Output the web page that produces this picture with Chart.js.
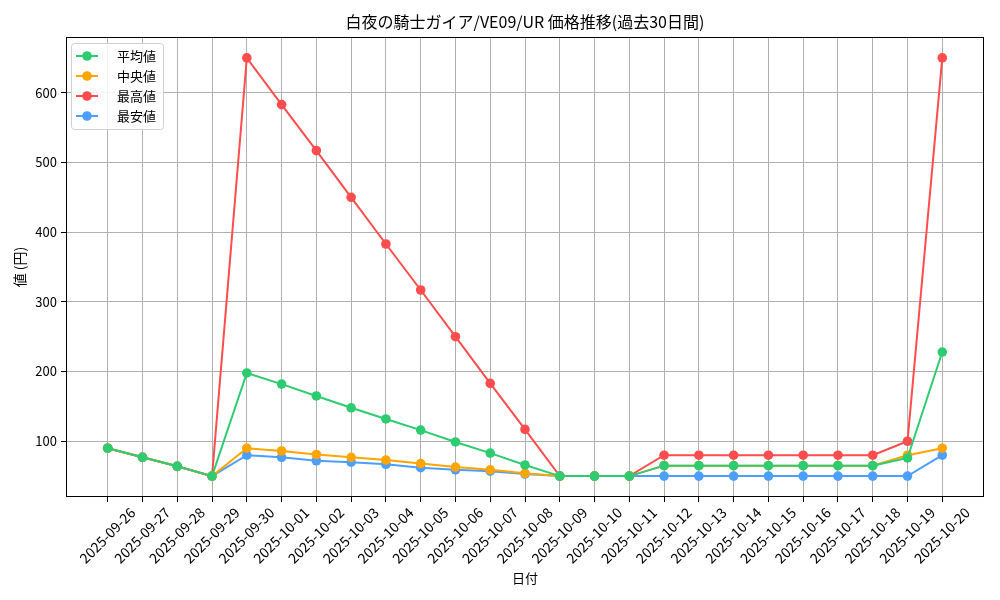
<!DOCTYPE html>
<html>
<head>
<meta charset="utf-8">
<script src="https://cdn.jsdelivr.net/npm/chart.js@4/dist/chart.umd.min.js"></script>
<style>
  html, body { margin: 0; padding: 0; background: #fff; }
  #wrap { width: 1000px; height: 600px; }
</style>
</head>
<body>
<div id="wrap"><canvas id="chart" width="1000" height="600"></canvas></div>
<script>
// 日付
const dates = [
  '2025-09-26', '2025-09-27', '2025-09-28', '2025-09-29', '2025-09-30',
  '2025-10-01', '2025-10-02', '2025-10-03', '2025-10-04', '2025-10-05',
  '2025-10-06', '2025-10-07', '2025-10-08', '2025-10-09', '2025-10-10',
  '2025-10-11', '2025-10-12', '2025-10-13', '2025-10-14', '2025-10-15',
  '2025-10-16', '2025-10-17', '2025-10-18', '2025-10-19', '2025-10-20'
];

// 各系列の値 (円)
const avgPrices = [90, 77, 64, 50, 198, 182, 165, 148, 132, 116, 99, 83, 66, 50, 50, 50, 65, 65, 65, 65, 65, 65, 65, 76, 228];
const medianPrices = [90, 77, 64, 50, 90, 86, 81, 77, 73, 68, 63, 59, 54, 50, 50, 50, 65, 65, 65, 65, 65, 65, 65, 80, 90];
const maxPrices = [90, 77, 64, 50, 650, 583, 517, 450, 383, 317, 250, 183, 117, 50, 50, 50, 80, 80, 80, 80, 80, 80, 80, 100, 650];
const minPrices = [90, 77, 64, 50, 80, 77, 72, 70, 67, 62, 59, 57, 53, 50, 50, 50, 50, 50, 50, 50, 50, 50, 50, 50, 80];

const yTicks = [100, 200, 300, 400, 500, 600];

const chartTitle = '白夜の騎士ガイア/VE09/UR 価格推移(過去30日間)';

const FONT = "'Noto Sans CJK JP', 'DejaVu Sans', sans-serif";

const toPoints = (arr) => arr.map((v, i) => ({ x: i, y: v }));

const makeSet = (label, values, color) => ({
  label: label,
  data: toPoints(values),
  borderColor: color,
  backgroundColor: color,
  borderWidth: 2,
  pointRadius: 4.8,
  pointHoverRadius: 4.8,
  pointBorderWidth: 0,
  tension: 0
});

const datasets = [
  makeSet('平均値', avgPrices, '#2ecc71'),
  makeSet('中央値', medianPrices, '#ffa500'),
  makeSet('最高値', maxPrices, '#ff4d4d'),
  makeSet('最安値', minPrices, '#4d9fff')
];

//枠線・タイトル・凡例を描くプラグイン
const framePlugin = {
  id: 'frame',
  afterDraw(chart) {
    const ctx = chart.ctx;
    const a = chart.chartArea;
    ctx.save();
    //四辺の枠
    ctx.fillStyle = '#000';
    const l = Math.round(a.left), t = Math.round(a.top);
    const r = Math.round(a.right), b = Math.round(a.bottom);
    ctx.fillRect(l, t, r - l, 1);
    ctx.fillRect(l, b - 1, r - l, 1);
    ctx.fillRect(l, t, 1, b - t);
    ctx.fillRect(r - 1, t, 1, b - t);

    //タイトル
    ctx.font = '16px ' + FONT;
    ctx.textAlign = 'center';
    ctx.textBaseline = 'middle';
    ctx.fillText(chartTitle, (a.left + a.right) / 2, 22);

    //凡例
    const bx = a.left + 5, by = a.top + 6, bw = 92, bh = 86;
    ctx.fillStyle = 'rgba(255,255,255,0.85)';
    ctx.strokeStyle = '#d0d0d0';
    ctx.lineWidth = 1;
    ctx.beginPath();
    ctx.roundRect(bx + 0.5, by + 0.5, bw, bh, 3);
    ctx.fill();
    ctx.stroke();
    ctx.font = '13px ' + FONT;
    ctx.textAlign = 'left';
    chart.data.datasets.forEach((ds, i) => {
      const y = by + 13 + i * 20;
      ctx.strokeStyle = ds.borderColor;
      ctx.lineWidth = 2;
      ctx.beginPath();
      ctx.moveTo(bx + 5, y);
      ctx.lineTo(bx + 27, y);
      ctx.stroke();
      ctx.fillStyle = ds.borderColor;
      ctx.beginPath();
      ctx.arc(bx + 16, y, 4.8, 0, Math.PI * 2);
      ctx.fill();
      ctx.fillStyle = '#000';
      ctx.fillText(ds.label, bx + 46, y);
    });
    ctx.restore();
  }
};

new Chart(document.getElementById('chart'), {
  type: 'line',
  data: { datasets: datasets },
  options: {
    responsive: false,
    animation: false,
    layout: { padding: { left: 0, right: 16, top: 37, bottom: 0 } },
    plugins: {
      legend: { display: false },
      tooltip: { enabled: false },
      title: { display: false }
    },
    scales: {
      x: {
        type: 'linear',
        min: -1.2,
        max: dates.length - 1 + 1.2,
        afterBuildTicks: (scale) => {
          scale.ticks = dates.map((d, i) => ({ value: i }));
        },
        afterFit: (scale) => { scale.height = 103; },
        ticks: {
          autoSkip: false,
          maxRotation: 45,
          minRotation: 45,
          color: '#000',
          padding: 2,
          labelOffset: 25,
          font: { family: FONT, size: 14 },
          callback: (v) => dates[v]
        },
        grid: { color: '#b0b0b0', lineWidth: 1, tickColor: '#000', tickLength: 5 },
        border: { display: false },
        title: {
          display: true,
          text: '日付',
          color: '#000',
          font: { family: FONT, size: 13 },
          padding: { top: 0, bottom: 14 }
        }
      },
      y: {
        type: 'linear',
        min: 20,
        max: 680,
        afterBuildTicks: (scale) => {
          scale.ticks = yTicks.map((v) => ({ value: v }));
        },
        afterFit: (scale) => { scale.width = 66; },
        ticks: {
          color: '#000',
          padding: 4,
          font: { family: FONT, size: 13 }
        },
        grid: { color: '#b0b0b0', lineWidth: 1, tickColor: '#000', tickLength: 5 },
        border: { display: false },
        title: {
          display: true,
          text: '値 (円)',
          color: '#000',
          font: { family: FONT, size: 14 },
          padding: { top: 11, bottom: 0 }
        }
      }
    }
  },
  plugins: [framePlugin]
});
</script>
</body>
</html>
